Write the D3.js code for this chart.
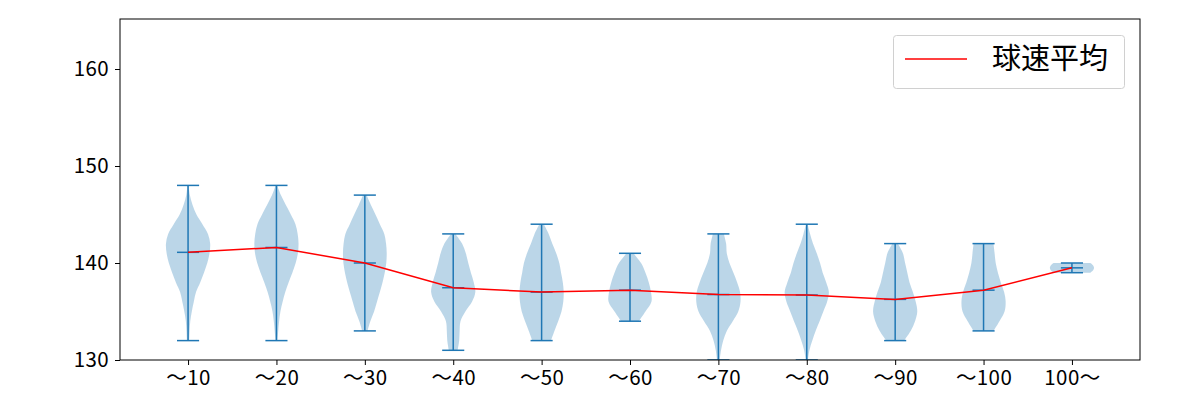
<!DOCTYPE html>
<html><head><meta charset="utf-8">
<script src="https://cdn.jsdelivr.net/npm/d3@7"></script>
<style>body{margin:0;background:#fff}svg{display:block}</style>
</head><body>
<svg id="c" width="1200" height="400"></svg>
<script>
const categories = ["〜10","〜20","〜30","〜40","〜50","〜60","〜70","〜80","〜90","〜100","100〜"];
const means = [141.1,141.6,140.0,137.45,137.0,137.2,136.75,136.7,136.25,137.2,139.5];
const mins  = [132,132,133,131,132,134,130,130,132,133,139];
const maxs  = [148,148,147,143,144,141,143,144,142,142,140];
// relative violin half-widths, evenly spaced from min to max
const dens0 = [0.05,0.07,0.1,0.17,0.26,0.36,0.55,0.72,0.87,0.97,1.0,0.9,0.65,0.38,0.2,0.08,0.03];
const dens1 = [0.04,0.08,0.12,0.18,0.28,0.4,0.55,0.72,0.87,0.97,1.0,0.96,0.86,0.65,0.42,0.2,0.04];
const dens2 = [0.12,0.25,0.42,0.55,0.68,0.8,0.9,0.97,0.99,0.96,0.88,0.68,0.48,0.27,0.08];
const dens3 = [0.2,0.27,0.29,0.33,0.55,0.85,1.0,0.93,0.8,0.68,0.57,0.4,0.1];
const dens4 = [0.42,0.58,0.75,0.9,0.98,1.0,0.96,0.88,0.8,0.66,0.48,0.32,0.1];
const dens5 = [0.4,0.7,0.97,0.95,0.85,0.7,0.5,0.15];
const dens6 = [0.06,0.12,0.22,0.38,0.65,0.9,1.0,0.98,0.85,0.68,0.5,0.38,0.35,0.25];
const dens7 = [0.05,0.12,0.25,0.4,0.58,0.75,0.92,1.0,0.88,0.72,0.6,0.45,0.28,0.15,0.04];
const dens8 = [0.4,0.7,0.9,1.0,0.93,0.8,0.65,0.55,0.45,0.35,0.12];
const dens9 = [0.45,0.72,0.95,1.0,0.93,0.78,0.65,0.55,0.5,0.45];
const dens10 = [0.83,0.96,1.0,0.96,0.83];
const densities = [dens0,dens1,dens2,dens3,dens4,dens5,dens6,dens7,dens8,dens9,dens10];
const yTicks = [130,140,150,160];
const legendLabel = "球速平均";

const svg = d3.select("#c");
const L=120,R=1140,T=19,B=360;
const x = d3.scaleLinear().domain([0.23, 11.77]).range([L,R]);
const y = d3.scaleLinear().domain([130, 165.155]).range([B,T]);
const blue = "#1f77b4";
const FONT = "'Noto Sans CJK JP','Noto Sans',sans-serif";

svg.append("defs").append("clipPath").attr("id","clip")
  .append("rect").attr("x",L).attr("y",T).attr("width",R-L).attr("height",B-T);
const g = svg.append("g").attr("clip-path","url(#clip)");

const halfW = 0.25;
categories.forEach((c,i)=>{
  const pos = i+1;
  const d = densities[i];
  const n = d.length;
  const pts = d.map((w,k)=>({v: mins[i] + (maxs[i]-mins[i])*k/(n-1), w}));
  const area = d3.area()
    .y(p=>y(p.v))
    .x0(p=>x(pos - halfW*p.w))
    .x1(p=>x(pos + halfW*p.w))
    .curve(d3.curveCatmullRom);
  g.append("path").datum(pts).attr("d",area)
    .attr("fill",blue).attr("fill-opacity",0.3).attr("stroke","none");
  const cap = 0.125;
  g.append("line").attr("x1",x(pos)).attr("x2",x(pos)).attr("y1",y(mins[i])).attr("y2",y(maxs[i]))
    .attr("stroke",blue).attr("stroke-width",1.5);
  [mins[i],maxs[i],means[i]].forEach(v=>{
    g.append("line").attr("x1",x(pos-cap)).attr("x2",x(pos+cap)).attr("y1",y(v)).attr("y2",y(v))
      .attr("stroke",blue).attr("stroke-width",1.5);
  });
});

g.append("path").datum(means)
  .attr("d", d3.line().x((v,i)=>x(i+1)).y(v=>y(v)))
  .attr("fill","none").attr("stroke","red").attr("stroke-width",1.5);

// axes
const xa = svg.append("g").attr("transform",`translate(0,${B})`)
  .call(d3.axisBottom(x).tickValues(categories.map((c,i)=>i+1)).tickFormat((d,i)=>categories[i]).tickSize(5).tickPadding(5));
const ya = svg.append("g").attr("transform",`translate(${L},0)`)
  .call(d3.axisLeft(y).tickValues(yTicks).tickSize(5).tickPadding(6));
[xa,ya].forEach(a=>{
  a.select(".domain").remove();
  a.selectAll(".tick line").attr("stroke","#000").attr("stroke-width",1);
  a.selectAll(".tick text").attr("font-family",FONT).attr("font-size",20.5).attr("fill","#000")
    .attr("letter-spacing","0.4px");
});
svg.append("rect").attr("x",L).attr("y",T).attr("width",R-L).attr("height",B-T)
  .attr("fill","none").attr("stroke","#000").attr("stroke-width",1);

// legend
const lg = svg.append("g");
lg.append("rect").attr("x",893.5).attr("y",35.5).attr("width",231).attr("height",53).attr("rx",3)
  .attr("fill","#fff").attr("fill-opacity",0.8).attr("stroke","#d0d0d0");
lg.append("line").attr("x1",905).attr("x2",967).attr("y1",59).attr("y2",59).attr("stroke","red").attr("stroke-width",1.5);
lg.append("text").attr("x",992).attr("y",69).attr("font-family",FONT).attr("font-size",29).attr("fill","#000").text(legendLabel);
</script>
</body></html>
